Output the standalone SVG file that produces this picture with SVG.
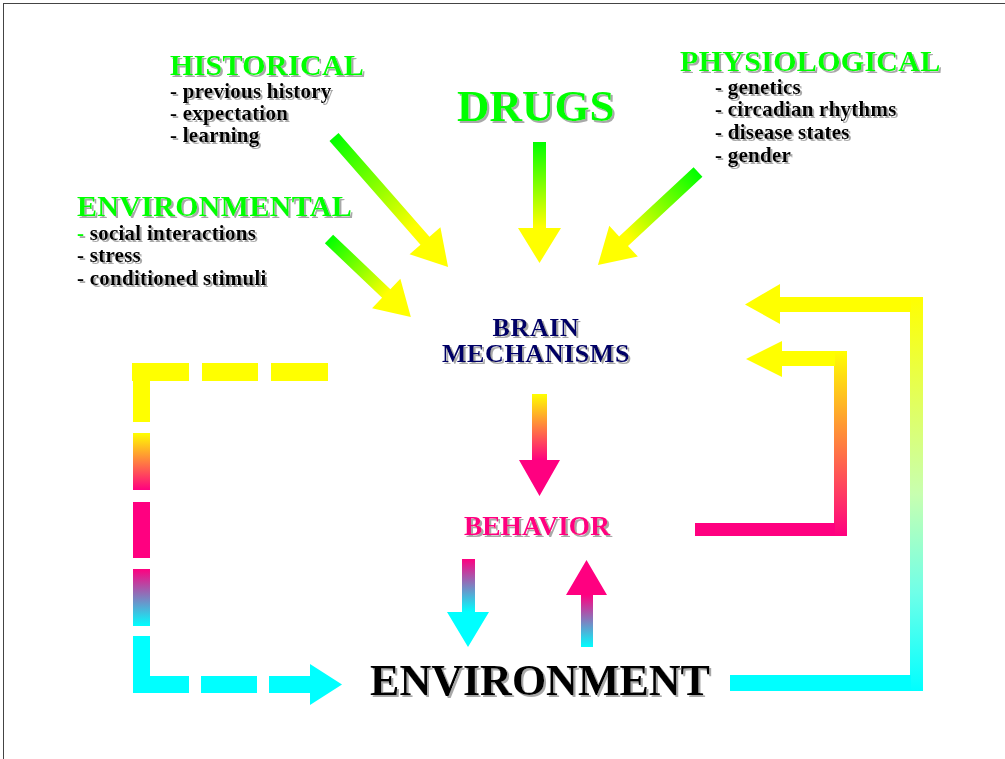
<svg xmlns="http://www.w3.org/2000/svg" width="1005" height="759" viewBox="0 0 1005 759">
<defs>
<filter id="sh" x="-5%" y="-20%" width="115%" height="150%">
<feDropShadow dx="2" dy="2" stdDeviation="0.7" flood-color="#a8a8a8" flood-opacity="1"/>
</filter>
<linearGradient id="gy" x1="0" y1="0" x2="0" y2="1">
<stop offset="0" stop-color="#00ff00"/><stop offset="0.7" stop-color="#ffff00"/>
</linearGradient>
<linearGradient id="yp" x1="0" y1="0" x2="0" y2="1">
<stop offset="0" stop-color="#ffff00"/><stop offset="0.65" stop-color="#ff0080"/>
</linearGradient>
<linearGradient id="pc" x1="0" y1="0" x2="0" y2="1">
<stop offset="0" stop-color="#ff0080"/><stop offset="0.6" stop-color="#00ffff"/>
</linearGradient>
<linearGradient id="cp" x1="0" y1="1" x2="0" y2="0">
<stop offset="0" stop-color="#00ffff"/><stop offset="0.6" stop-color="#ff0080"/>
</linearGradient>
<linearGradient id="yp2" x1="0" y1="0" x2="0" y2="1">
<stop offset="0" stop-color="#ffff00"/><stop offset="1" stop-color="#ff0080"/>
</linearGradient>
<linearGradient id="pc2" x1="0" y1="0" x2="0" y2="1">
<stop offset="0" stop-color="#ff0080"/><stop offset="1" stop-color="#00ffff"/>
</linearGradient>
<linearGradient id="yc" x1="0" y1="0" x2="0" y2="1">
<stop offset="0" stop-color="#ffff00"/><stop offset="0.5" stop-color="#c8ffb0"/><stop offset="0.75" stop-color="#70ffe8"/><stop offset="1" stop-color="#00ffff"/>
</linearGradient>
</defs>
<style>
text{font-family:"Liberation Serif","Times New Roman",serif;font-weight:bold;filter:url(#sh)}
.t{fill:#00ff00;font-size:30px;letter-spacing:0.3px}
.i{fill:#000;font-size:21px;letter-spacing:0.25px}
.b{fill:#000066;font-size:26px;letter-spacing:0.6px}
.y{fill:#ffff00}.p{fill:#ff0080}.c{fill:#00ffff}
</style>
<g id="frame" stroke="#444" stroke-width="1">
<line x1="3" y1="3.5" x2="1005" y2="3.5"/>
<line x1="3.5" y1="3" x2="3.5" y2="759"/>
</g>
<g id="historical">
<text class="t" x="170" y="75">HISTORICAL</text>
<text class="i" x="170" y="98">- previous history</text>
<text class="i" x="170" y="120">- expectation</text>
<text class="i" x="170" y="142">- learning</text>
</g>
<g id="environmental">
<text class="t" x="77" y="216">ENVIRONMENTAL</text>
<text class="i" x="77" y="240"><tspan fill="#00ff00">-</tspan> social interactions</text>
<text class="i" x="77" y="262">- stress</text>
<text class="i" x="77" y="285">- conditioned stimuli</text>
</g>
<g id="physiological">
<text class="t" x="680" y="71">PHYSIOLOGICAL</text>
<text class="i" x="715" y="94">- genetics</text>
<text class="i" x="715" y="116">- circadian rhythms</text>
<text class="i" x="715" y="139">- disease states</text>
<text class="i" x="715" y="162">- gender</text>
</g>
<g id="drugs">
<text x="457" y="121" style="fill:#00ff00;font-size:45px">DRUGS</text>
</g>
<g id="brain">
<text class="b" x="536" y="336" text-anchor="middle">BRAIN</text>
<text class="b" x="536" y="362" text-anchor="middle">MECHANISMS</text>
</g>
<g id="behavior">
<text x="537" y="535" text-anchor="middle" style="fill:#ff0080;font-size:27.5px">BEHAVIOR</text>
</g>
<g id="environment">
<text x="540" y="695" text-anchor="middle" style="fill:#000;font-size:44px">ENVIRONMENT</text>
</g>
<g id="connectors">
<polygon fill="url(#gy)" points="533,142 546,142 546,228 561,228 539.5,263 518,228 533,228"/>
<polygon fill="url(#gy)" transform="translate(334,137) rotate(-41.25)" points="-6,0 6,0 6,138 20.5,138 0,173 -20.5,138 -6,138"/>
<polygon fill="url(#gy)" transform="translate(329,239) rotate(-46.4)" points="-6,0 6,0 6,79 20.5,79 0,113 -20.5,79 -6,79"/>
<polygon fill="url(#gy)" transform="translate(698,172) rotate(47.1)" points="-6.5,0 6.5,0 6.5,101.6 21,101.6 0,136.6 -21,101.6 -6.5,101.6"/>
<polygon fill="url(#yp)" points="532,394 547,394 547,460 560,460 539.5,496 519,460 532,460"/>
<polygon fill="url(#pc)" points="462,559 475,559 475,612 489,612 468,647 447,612 462,612"/>
<polygon fill="url(#cp)" points="581,647 593,647 593,595 607,595 586.5,560 566,595 581,595"/>
<g id="outer-loop">
<rect x="910" y="297" width="13" height="394" fill="url(#yc)"/>
<rect class="y" x="779" y="297" width="132" height="15"/>
<polygon class="y" points="780,284 780,324 745,304.5"/>
<rect class="c" x="730" y="675" width="181" height="16"/>
</g>
<g id="inner-loop">
<rect x="834" y="351" width="13" height="185" fill="url(#yp2)"/>
<rect class="y" x="781" y="351" width="54" height="15"/>
<polygon class="y" points="782,341 782,377 746,359"/>
<rect class="p" x="695" y="523" width="140" height="13"/>
</g>
<g id="dashed-loop">
<rect class="y" x="132" y="363" width="57" height="18"/>
<rect class="y" x="133" y="363" width="17" height="59"/>
<rect class="y" x="202" y="363" width="56" height="18"/>
<rect class="y" x="271" y="363" width="57" height="18"/>
<rect x="133" y="433" width="17" height="57" fill="url(#yp2)"/>
<rect class="p" x="133" y="502" width="17" height="56"/>
<rect x="133" y="569" width="17" height="57" fill="url(#pc2)"/>
<rect class="c" x="133" y="636" width="17" height="57"/>
<rect class="c" x="133" y="676" width="56" height="17"/>
<rect class="c" x="201" y="676" width="56" height="17"/>
<rect class="c" x="269" y="676" width="42" height="17"/>
<polygon class="c" points="310,664 310,705 342,684.5"/>
</g>
</g>
</svg>
